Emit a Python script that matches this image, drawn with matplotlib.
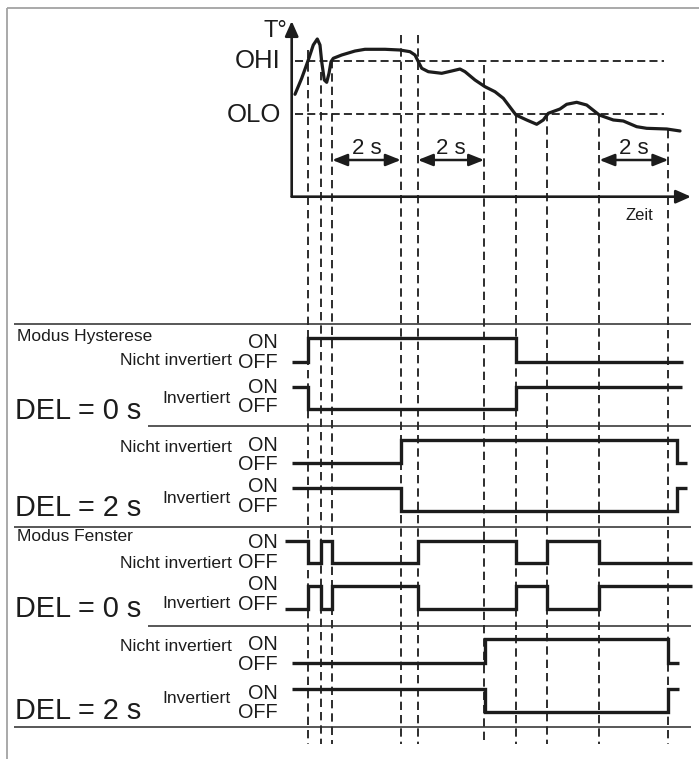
import numpy as np
import matplotlib
matplotlib.use("Agg")
import matplotlib.pyplot as plt

plt.rcParams['font.family'] = ['Liberation Sans', 'DejaVu Sans']
plt.rcParams['lines.scale_dashes'] = False

# ------------------------------------------------------------------ data
# temperature curve: time (s) and temperature (arbitrary units)
curve_t = [0.097, 0.294, 0.488, 0.635, 0.753, 0.832, 0.882, 0.959, 1.029, 1.097,
           1.156, 1.224, 1.471, 1.862, 2.156, 2.744, 3.185, 3.479, 3.626, 3.724,
           3.824, 4.018, 4.412, 4.706, 4.950, 5.097, 5.391, 5.685, 5.979, 6.224,
           6.597, 6.912, 7.206, 7.400, 7.547, 7.891, 8.088, 8.382, 8.676, 9.047,
           9.459, 9.753, 10.147, 10.441, 11.029, 11.421]
curve_T = [22.64, 26.18, 30.22, 33.54, 34.87, 33.54, 29.85, 25.80, 25.29, 27.28,
           29.85, 30.60, 31.33, 32.21, 32.59, 32.59, 32.43, 32.06, 31.33, 29.85,
           28.39, 27.64, 27.28, 27.79, 28.23, 27.64, 25.80, 24.32, 23.21, 21.76,
           18.06, 16.96, 16.01, 16.96, 18.44, 19.39, 20.43, 20.87, 20.27, 18.06,
           16.96, 16.74, 15.48, 15.12, 14.97, 14.53]
T_OHI = 30.0
T_OLO = 18.2
threshold_names = ["OHI", "OLO"]

# switching events (s) and temperature where each guide line starts
event_t = [0.47, 0.86, 1.19, 3.21, 3.71, 5.66, 6.60, 7.52, 9.05, 11.08]
event_T = [32.4, 27.6, 30.2, 35.8, 35.8, 29.1, 18.1, 18.5, 18.1, 14.7]

# delay spans (s)
delay_start = [1.19, 3.71, 9.05]
delay_end = [3.21, 5.66, 11.08]
delay_label = "2 s"

# output signals: initial state, toggle times, start / end time
sig_names = ["Hyst NI DEL0", "Hyst INV DEL0", "Hyst NI DEL2", "Hyst INV DEL2",
             "Fen NI DEL0", "Fen INV DEL0", "Fen NI DEL2", "Fen INV DEL2"]
sig_init = [0, 1, 0, 1, 1, 0, 0, 1]
hyst_del0_toggles = [0.47, 6.60]
hyst_del2_toggles = [3.21, 11.32]
fen_del0_toggles = [0.47, 0.86, 1.19, 3.71, 6.60, 7.52, 9.05]
fen_del2_toggles = [5.68, 11.08]
sig_toggles = [hyst_del0_toggles, hyst_del0_toggles, hyst_del2_toggles, hyst_del2_toggles,
               fen_del0_toggles, fen_del0_toggles, fen_del2_toggles, fen_del2_toggles]
sig_start = [0.0, 0.0, 0.0, 0.0, -0.20, -0.20, 0.0, 0.0]
sig_end = [11.51, 11.48, 11.64, 11.64, 11.76, 11.76, 11.40, 11.40]

# ------------------------------------------------------------------ layout
W, H = 699, 759
X0_PX, PX_PER_S = 291.7, 34.0
Y_T0_PX, PX_PER_T = 196.7, 4.523
INK = '#1c1c1c'

row_on = [338.3, 387.3, 440.0, 487.7, 540.7, 586.0, 639.3, 689.3]
row_off = [361.7, 409.3, 463.3, 510.7, 562.7, 609.3, 663.3, 711.7]

fig = plt.figure(figsize=(W / 100, H / 100), dpi=100)
fig.patch.set_facecolor('white')

t_lim = (-X0_PX / PX_PER_S, (W - X0_PX) / PX_PER_S)

axT = fig.add_axes([0, 0, 1, 1], label='temp')
axT.set_xlim(*t_lim)
axT.set_ylim((Y_T0_PX - H) / PX_PER_T, Y_T0_PX / PX_PER_T)
axT.axis('off')

axS = fig.add_axes([0, 0, 1, 1], label='signals')
axS.set_xlim(*t_lim)
axS.set_ylim(H, 0)
axS.axis('off')

lay = fig.add_axes([0, 0, 1, 1], label='layout')
lay.set_xlim(0, W)
lay.set_ylim(H, 0)
lay.axis('off')

def px_T(y):
    return (Y_T0_PX - y) / PX_PER_T

def px_t(x):
    return (x - X0_PX) / PX_PER_S

# frame
lay.plot([7, 7], [H, 8], color='#a3a3a3', lw=1.3, solid_capstyle='butt')
lay.plot([7, W], [8, 8], color='#a3a3a3', lw=1.3, solid_capstyle='butt')

# axes arrows of temperature chart
arrow_kw = dict(arrowstyle='-|>,head_length=0.45,head_width=0.2', lw=1.9,
                color=INK, shrinkA=0, shrinkB=0, mutation_scale=20)
axT.annotate('', xy=(0, px_T(21)), xytext=(0, 0), arrowprops=arrow_kw)
axT.annotate('', xy=(px_t(691), 0), xytext=(0, 0), arrowprops=arrow_kw)

# thresholds
axT.hlines([T_OHI, T_OLO], 0.1, 10.95, colors=INK, lw=1.3, linestyles=[(0, (5.8, 3.0))])

# guide lines
for t, T in zip(event_t, event_T):
    axT.plot([t, t], [T, px_T(744)], color=INK, lw=1.3, ls=(0, (6.0, 3.6)))

# curve
axT.plot(curve_t, curve_T, color=INK, lw=2.3, solid_joinstyle='round', solid_capstyle='round')

# delay arrows
for a, b in zip(delay_start, delay_end):
    axT.annotate('', xy=(b, px_T(160)), xytext=(a, px_T(160)),
                 arrowprops=dict(arrowstyle='<|-|>,head_length=0.45,head_width=0.18', lw=1.8,
                                 color=INK, shrinkA=0, shrinkB=0, mutation_scale=20))
    axT.text((a + b) / 2, px_T(154), delay_label, ha='center', va='baseline',
             fontsize=16, color=INK)

# top labels
lay.text(287, 37, 'T°', ha='right', va='baseline', fontsize=17, color=INK)
for name, T in zip(threshold_names, [T_OHI, T_OLO]):
    axT.text(px_t(281), T - 1.65, name, ha='right', va='baseline', fontsize=18.5, color=INK)
lay.text(639, 220, 'Zeit', ha='center', va='baseline', fontsize=12, color=INK)

# separators
lay.hlines([324, 526.7, 727], 14, 691, colors='#2a2a2a', lw=1.1)
lay.hlines([426, 626], 148, 691, colors='#2a2a2a', lw=1.1)

# signals
for i in range(len(sig_names)):
    xs = [sig_start[i]] + list(sig_toggles[i]) + [sig_end[i]]
    states = [sig_init[i]]
    for _ in sig_toggles[i]:
        states.append(1 - states[-1])
    states.append(states[-1])
    ys = [row_on[i] if s else row_off[i] for s in states]
    axS.step(xs, ys, where='post', color=INK, lw=2.4,
             solid_joinstyle='miter', solid_capstyle='butt')

# left labels
S_MODE, S_SUB, S_ONOFF, S_DEL = 12.5, 12.6, 14.3, 20.8
labels = [
    (17, 341.0, "Modus Hysterese", S_MODE, 'left'),
    (278, 348.3, "ON", S_ONOFF, 'right'),
    (278, 368.3, "OFF", S_ONOFF, 'right'),
    (231.7, 365.0, "Nicht invertiert", S_SUB, 'right'),
    (278, 392.8, "ON", S_ONOFF, 'right'),
    (278, 412.0, "OFF", S_ONOFF, 'right'),
    (230.7, 403.3, "Invertiert", S_SUB, 'right'),
    (15, 419.3, "DEL = 0 s", S_DEL, 'left'),
    (231.7, 451.5, "Nicht invertiert", S_SUB, 'right'),
    (278, 451.2, "ON", S_ONOFF, 'right'),
    (278, 470.3, "OFF", S_ONOFF, 'right'),
    (230.7, 502.7, "Invertiert", S_SUB, 'right'),
    (278, 492.5, "ON", S_ONOFF, 'right'),
    (278, 511.8, "OFF", S_ONOFF, 'right'),
    (15, 516.5, "DEL = 2 s", S_DEL, 'left'),
    (17, 540.7, "Modus Fenster", S_MODE, 'left'),
    (278, 548.3, "ON", S_ONOFF, 'right'),
    (231.7, 568.3, "Nicht invertiert", S_SUB, 'right'),
    (278, 568.3, "OFF", S_ONOFF, 'right'),
    (278, 590.2, "ON", S_ONOFF, 'right'),
    (230.7, 608.3, "Invertiert", S_SUB, 'right'),
    (278, 609.5, "OFF", S_ONOFF, 'right'),
    (15, 616.7, "DEL = 0 s", S_DEL, 'left'),
    (231.7, 650.7, "Nicht invertiert", S_SUB, 'right'),
    (278, 650.5, "ON", S_ONOFF, 'right'),
    (278, 669.8, "OFF", S_ONOFF, 'right'),
    (230.7, 702.7, "Invertiert", S_SUB, 'right'),
    (278, 699.2, "ON", S_ONOFF, 'right'),
    (278, 718.5, "OFF", S_ONOFF, 'right'),
    (15, 719.3, "DEL = 2 s", S_DEL, 'left'),
]
for x, y, s, fs, ha in labels:
    lay.text(x, y, s, ha=ha, va='baseline', fontsize=fs, color=INK)

fig.savefig('out.png', dpi=100, facecolor='white')
